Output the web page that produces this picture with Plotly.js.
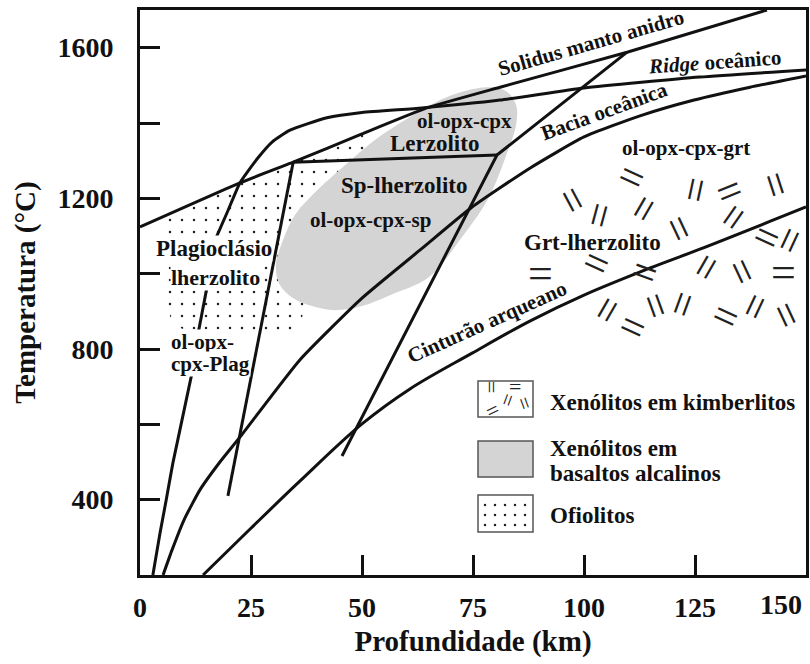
<!DOCTYPE html>
<html><head><meta charset="utf-8">
<script src="https://cdn.plot.ly/plotly-3.0.1.min.js"></script>
<style>html,body{margin:0;padding:0;background:#fff}</style>
</head><body><div id="chart" style="width:810px;height:664px"></div>
<script>
// ---- axes ----
const depthTicks = [0, 25, 50, 75, 100, 125, 150];
const depthTickLabels = ['0', '25', '50', '75', '100', '125', ''];
const tempTicks = [400, 600, 800, 1000, 1200, 1400, 1600];
const tempTickLabels = ['400', '', '800', '', '1200', '', '1600'];

// ---- curves (depth km, temperature °C) ----
const ridgeKm = [2.9, 4.5, 5.9, 7.4, 11.7, null, 13.1, 15.1, null, 16.9, 19.8, 22.5, 26.4, 29.8, 33.8, 42.1, 50, 63.5, 81.1, 100, 126.1, 150];
const ridgeT  = [200, 311, 399, 497, 736, null, 842, 965, null, 1089, 1167, 1241, 1305, 1350, 1381, 1414, 1428, 1440, 1461, 1493, 1522, 1541];

const solidusKm = [0, 22.5, 34.5, 50, 64.6, 81.1, 109.7, 141.2];
const solidusT  = [1124, 1241, 1296, 1371, 1440, 1495, 1588, 1700];

const baciaKm = [5.2, 7.2, 9.9, 13.5, 18.0, 22.5, 36.0, 50.0, 63.1, 74.8, 87.8, 100, 112.6, 124.8, 137.4, 150];
const baciaT  = [200, 266, 346, 426, 500, 566, 771, 935, 1063, 1177, 1280, 1363, 1419, 1461, 1495, 1525];

const cratonKm = [14.2, 24.8, 36.0, 50.0, 60.8, 74.8, 87.8, 100, 114.9, 126.1, 150];
const cratonT  = [200, 322, 449, 601, 694, 789, 874, 943, 1015, 1065, 1177];

const lherzBoundKm = [34.5, 80.4];
const lherzBoundT  = [1296, 1315];
const plagSpKm = [34.5, 19.8];
const plagSpT  = [1296, 410];
const spGrtKm = [45.5, 80.4, 109.7];
const spGrtT  = [516, 1315, 1588];

// ---- fields ----
const basaltKm = [45.7, 39.0, 34.9, 32.2, 30.6, 31.5, 34.5, 38.7, 43.9, 50.0, 56.3, 65.1, 72.5, 78.6, 82.9, 84.7, 84.7, 82.4, 78.4, 73.2, 67.6, 60.8, 52.9, 45.7];
const basaltT  = [1283, 1211, 1156, 1089, 1023, 970, 935, 914, 903, 914, 943, 991, 1097, 1203, 1328, 1395, 1448, 1485, 1495, 1485, 1461, 1416, 1355, 1283];

const ophioKm = [6.3, 22.5, 34.5, 50.7, 52.9, 36.0, 37.2, 36.0, 24.8, 13.5, 7.2, 5.6, 5.6, 6.3];
const ophioT  = [1156, 1241, 1296, 1373, 1355, 1089, 930, 850, 829, 837, 864, 957, 1076, 1156];

// kimberlite xenolith marks
const kimbKm = [110.8, 97.3, 103.6, 113.5, 121.4, 125.0, 132.7, 133.6, 143.2, 141.0, 146.3, 90.3, 102.9, 113.7, 127.7, 135.6, 145.0, 105.2, 116.2, 122.3, 111.0, 131.8, 138.5, 145.6];
const kimbT  = [1254, 1196, 1156, 1174, 1121, 1222, 1217, 1150, 1235, 1095, 1089, 1000, 1028, 1002, 1018, 1007, 1004, 903, 914, 917, 856, 885, 914, 890];
const kimbAngle = [25, 62, -75, -60, 65, -78, -22, -55, 72, 25, -65, 0, 25, 20, -60, 65, 0, -60, 70, -70, 25, 25, -65, 65];

// ---- labels ----
const fieldLabels = [
  {t: 'ol-opx-cpx', x: 73.0, y: 1405, s: 21},
  {t: 'Lerzolito', x: 66.4, y: 1345, s: 23},
  {t: 'Sp-lherzolito', x: 59.5, y: 1235, s: 23},
  {t: 'ol-opx-cpx-sp', x: 52.0, y: 1142, s: 21},
  {t: 'Plagioclásio', x: 16.7, y: 1066, s: 23, bg: true},
  {t: 'lherzolito', x: 16.9, y: 991, s: 22, bg: true},
  {t: 'ol-opx-', x: 6.8, y: 819, s: 21, a: 'left', bg: true},
  {t: 'cpx-Plag', x: 6.8, y: 760, s: 21, a: 'left', bg: true},
  {t: 'ol-opx-cpx-grt', x: 123, y: 1334, s: 21},
  {t: 'Grt-lherzolito', x: 102, y: 1084, s: 23}
];
const curveLabels = [
  {t: 'Solidus manto anidro', x: 101.5, y: 1612, ang: -16},
  {t: '<i>Ridge</i> oceânico', x: 129.3, y: 1561, ang: -4},
  {t: 'Bacia oceânica', x: 104.7, y: 1431, ang: -20},
  {t: 'Cinturão arqueano', x: 78.2, y: 872, ang: -24}
];
const legendLabels = ['Xenólitos em kimberlitos', 'Xenólitos em', 'basaltos alcalinos', 'Ofiolitos'];

// ---- geometry helpers (plot area in px) ----
const L = 140, R = 806, T = 10, B = 575;
const X0 = 0, X1 = 150, Y0 = 200, Y1 = 1700;
const px2x = p => X0 + (p - L) / (R - L) * (X1 - X0);
const px2y = p => Y0 + (B - p) / (B - T) * (Y1 - Y0);
const px2px = p => (p - L) / (R - L);
const px2py = p => (B - p) / (B - T);

const serif = 'Liberation Serif, Times New Roman, serif';
const lineStyle = {color: '#111', width: 3};
const dotPattern = {shape: '.', size: 12, solidity: 0.035, fgcolor: '#222', bgcolor: 'white'};

const traces = [];
traces.push({x: ophioKm, y: ophioT, mode: 'lines', fill: 'toself', line: {width: 0, color: 'rgba(0,0,0,0)'},
  fillcolor: 'white', fillpattern: dotPattern, hoverinfo: 'skip'});
traces.push({x: basaltKm, y: basaltT, mode: 'lines', fill: 'toself', line: {width: 0, color: 'rgba(0,0,0,0)', shape: 'spline'},
  fillcolor: '#d4d4d4', hoverinfo: 'skip'});
traces.push({x: ridgeKm, y: ridgeT, mode: 'lines', line: Object.assign({shape: 'spline', smoothing: 0.5}, lineStyle), connectgaps: false});
traces.push({x: solidusKm, y: solidusT, mode: 'lines', line: Object.assign({shape: 'spline', smoothing: 0.4}, lineStyle)});
traces.push({x: baciaKm, y: baciaT, mode: 'lines', line: Object.assign({shape: 'spline', smoothing: 0.5}, lineStyle)});
traces.push({x: cratonKm, y: cratonT, mode: 'lines', line: Object.assign({shape: 'spline', smoothing: 1}, lineStyle)});
traces.push({x: lherzBoundKm, y: lherzBoundT, mode: 'lines', line: lineStyle});
traces.push({x: plagSpKm, y: plagSpT, mode: 'lines', line: lineStyle});
traces.push({x: spGrtKm, y: spGrtT, mode: 'lines', line: lineStyle});

// legend swatch for ophiolites (dotted box)
const sw = {x0: 478, x1: 533};
const swRows = [[381, 417], [441, 477], [495, 532]];
const s3 = swRows[2];
traces.push({x: [px2x(sw.x0 + 2), px2x(sw.x1 - 2), px2x(sw.x1 - 2), px2x(sw.x0 + 2), px2x(sw.x0 + 2)],
  y: [px2y(s3[0] + 2), px2y(s3[0] + 2), px2y(s3[1] - 2), px2y(s3[1] - 2), px2y(s3[0] + 2)],
  mode: 'lines', fill: 'toself', line: {width: 0, color: 'rgba(0,0,0,0)'}, fillcolor: 'white',
  fillpattern: {shape: '.', size: 10, solidity: 0.05, fgcolor: '#222', bgcolor: 'white'}, hoverinfo: 'skip'});

const shapes = swRows.map((r, i) => ({type: 'rect', xref: 'paper', yref: 'paper',
  x0: px2px(sw.x0), x1: px2px(sw.x1), y0: px2py(r[1]), y1: px2py(r[0]),
  line: {color: '#555', width: 1.5}, fillcolor: i === 1 ? '#d4d4d4' : 'rgba(0,0,0,0)', layer: 'above'}));

const annotations = [];
fieldLabels.forEach(l => annotations.push({x: l.x, y: l.y, text: l.t, showarrow: false,
  xanchor: l.a || 'center', yanchor: 'middle', bgcolor: l.bg ? 'white' : 'rgba(0,0,0,0)', borderpad: 0,
  font: {family: serif, size: l.s, color: '#111', weight: 'bold'}}));
curveLabels.forEach(l => annotations.push({x: l.x, y: l.y, text: l.t, showarrow: false, textangle: l.ang,
  xanchor: 'center', yanchor: 'middle', font: {family: serif, size: 21, color: '#111', weight: 'bold'}}));
kimbKm.forEach((k, i) => annotations.push({x: k, y: kimbT[i], text: '=', showarrow: false, textangle: kimbAngle[i],
  xanchor: 'center', yanchor: 'middle', font: {family: serif, size: 44, color: '#222'}}));
// legend swatch marks (kimberlites)
const swMarks = [[492, 387, 90], [515, 386, 0], [507, 400, -70], [525, 403, 70], [492, 410, -25]];
swMarks.forEach(m => annotations.push({xref: 'paper', yref: 'paper', x: px2px(m[0]), y: px2py(m[1]), text: '=',
  showarrow: false, textangle: m[2], xanchor: 'center', yanchor: 'middle', font: {family: serif, size: 22, color: '#222'}}));
const legY = [402, 448, 473, 515];
legendLabels.forEach((t, i) => annotations.push({xref: 'paper', yref: 'paper', x: px2px(548), y: px2py(legY[i]), text: t,
  showarrow: false, xanchor: 'left', yanchor: 'middle', font: {family: serif, size: 23, color: '#111', weight: 'bold'}}));
// last x tick label, kept inside the figure
annotations.push({xref: 'x', yref: 'paper', x: depthTicks[6], y: 0, text: '150', showarrow: false,
  xanchor: 'right', yanchor: 'top', xshift: -2, yshift: -12, font: {family: serif, size: 28, color: '#111', weight: 'bold'}});

const axisCommon = {showline: true, mirror: true, linecolor: '#111', linewidth: 3, ticks: 'inside', ticklen: 20,
  tickwidth: 3, tickcolor: '#111', showgrid: false, zeroline: false, fixedrange: true,
  tickfont: {family: serif, size: 28, color: '#111', weight: 'bold'}};

const layout = {
  width: 810, height: 664, margin: {l: L, r: 810 - R, t: T, b: 664 - B},
  paper_bgcolor: 'white', plot_bgcolor: 'white', showlegend: false,
  xaxis: Object.assign({}, axisCommon, {range: [X0, X1], tickmode: 'array', tickvals: depthTicks, ticktext: depthTickLabels,
    ticklabelstandoff: 5,
    title: {text: 'Profundidade (km)', standoff: 10, font: {family: serif, size: 29, color: '#111', weight: 'bold'}}}),
  yaxis: Object.assign({}, axisCommon, {range: [Y0, Y1], tickmode: 'array', tickvals: tempTicks, ticktext: tempTickLabels,
    ticklabelstandoff: 18,
    title: {text: 'Temperatura (°C)', standoff: 14, font: {family: serif, size: 29, color: '#111', weight: 'bold'}}}),
  shapes: shapes, annotations: annotations
};

Plotly.newPlot('chart', traces, layout, {displayModeBar: false, staticPlot: true});
</script></body></html>
